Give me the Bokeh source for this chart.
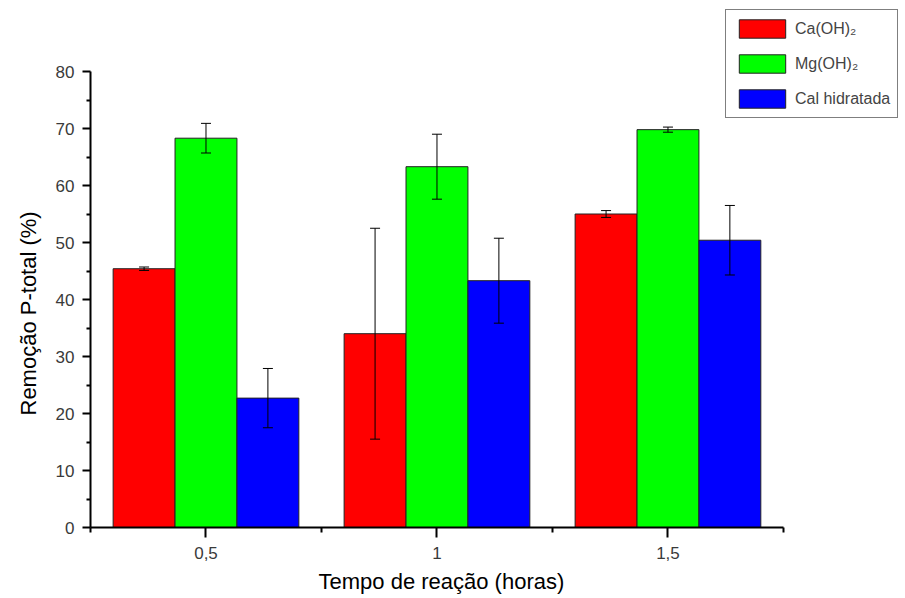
from bokeh.plotting import figure
from bokeh.models import (ColumnDataSource, Whisker, TeeHead, FixedTicker, Range1d,
                          Legend, LegendItem, Title)
from bokeh.embed import file_html
from bokeh.resources import INLINE

# ---- data ----
times = [0.5, 1.0, 1.5]
tick_labels = ["0,5", "1", "1,5"]
series_names = ["Ca(OH)\u2082", "Mg(OH)\u2082", "Cal hidratada"]
ca = [45.4, 34.0, 55.0]
ca_err = [0.3, 18.5, 0.6]
mg = [68.3, 63.3, 69.8]
mg_err = [2.6, 5.7, 0.45]
cal = [22.7, 43.3, 50.4]
cal_err = [5.2, 7.45, 6.1]
y_ticks = [0, 10, 20, 30, 40, 50, 60, 70, 80]
y_minor = [5, 15, 25, 35, 45, 55, 65, 75]
x_minor = [0.25, 0.75, 1.25, 1.75]
x_title = "Tempo de reação (horas)"
y_title = "Remoção P-total (%)"

colors = ["#FF0000", "#00FF00", "#0000FF"]
bar_w = 0.134
offsets = [-bar_w, 0.0, bar_w]
FONT = "Liberation Sans"

p = figure(width=905, height=598, output_backend="svg", toolbar_location=None,
           x_range=Range1d(0.25, 2.012), y_range=Range1d(0, 91.58),
           min_border_left=90, min_border_right=1, min_border_top=5,
           min_border_bottom=71)
p.outline_line_color = None
p.xgrid.visible = False
p.ygrid.visible = False
p.background_fill_color = "white"
p.border_fill_color = "white"

renderers = []
for vals, errs, off, col in zip([ca, mg, cal], [ca_err, mg_err, cal_err], offsets, colors):
    xs = [t + off for t in times]
    src = ColumnDataSource(dict(x=xs, top=vals,
                                upper=[v + e for v, e in zip(vals, errs)],
                                lower=[v - e for v, e in zip(vals, errs)]))
    r = p.vbar(x="x", top="top", width=bar_w, bottom=0, source=src,
               fill_color=col, line_color="#222222", line_width=1)
    renderers.append(r)
    w = Whisker(base="x", upper="upper", lower="lower", source=src,
                line_color="black", line_width=1, level="overlay",
                upper_head=TeeHead(size=10, line_color="black", line_width=1),
                lower_head=TeeHead(size=10, line_color="black", line_width=1))
    p.add_layout(w)

# axes
xa = p.xaxis[0]
xa.ticker = FixedTicker(ticks=times, minor_ticks=x_minor)
xa.major_label_overrides = dict(zip(times, tick_labels))
xa.bounds = (0.25, 1.75)

ya = p.yaxis[0]
ya.ticker = FixedTicker(ticks=y_ticks, minor_ticks=y_minor)
ya.bounds = (0, 80)

for ax in (xa, ya):
    ax.axis_line_width = 2
    ax.axis_line_color = "black"
    ax.major_tick_line_width = 2
    ax.minor_tick_line_width = 2
    ax.major_tick_line_color = "black"
    ax.minor_tick_line_color = "black"
    ax.major_tick_in = 0
    ax.minor_tick_in = 0
    ax.major_label_text_font = FONT
    ax.major_label_text_font_size = "17px"
    ax.major_label_text_color = "#3a3a3a"

xa.major_tick_out = 10
xa.minor_tick_out = 5
xa.major_label_standoff = 9
ya.major_tick_out = 8
ya.minor_tick_out = 4
ya.major_label_standoff = 8

# axis titles, placed along the drawn axis extent (not the whole frame)
p.add_layout(Title(text=x_title, align="left", offset=228, standoff=10,
                   text_font=FONT, text_font_size="22px",
                   text_font_style="normal", text_color="black"), "below")
p.add_layout(Title(text=y_title, align="left", offset=112, standoff=24,
                   text_font=FONT, text_font_size="22px",
                   text_font_style="normal", text_color="black"), "left")

legend = Legend(items=[LegendItem(label=n, renderers=[r]) for n, r in zip(series_names, renderers)],
                location=(635, 409), glyph_width=58, glyph_height=23, spacing=12,
                padding=7, label_standoff=4, border_line_color="black",
                border_line_width=1, label_text_font=FONT,
                label_text_font_size="16px", background_fill_alpha=1.0)
p.add_layout(legend)

open("out.html", "w").write(file_html(p, INLINE))
